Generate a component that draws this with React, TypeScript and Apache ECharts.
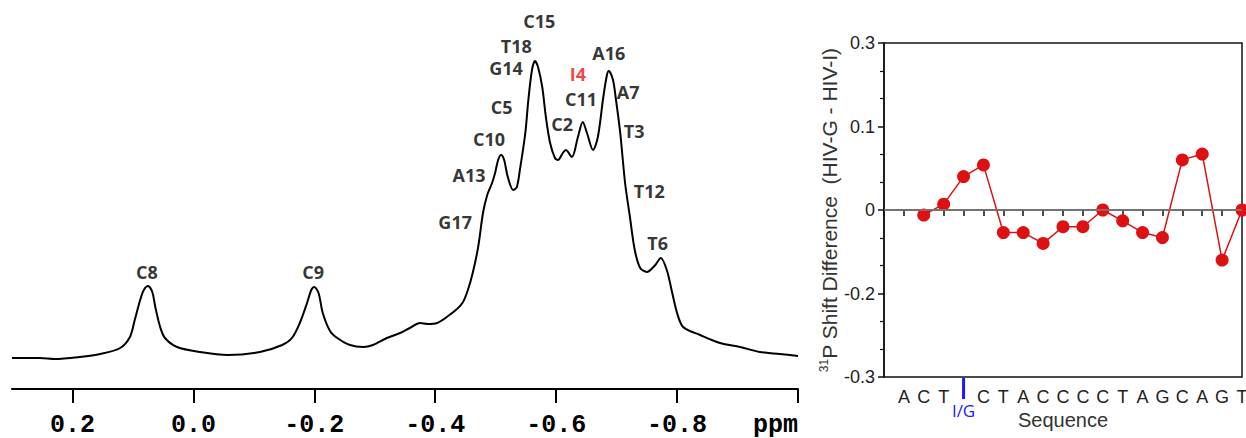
import React, { useEffect, useRef } from 'react';
import * as echarts from 'echarts';

// ---- Left panel: 31P NMR spectrum (ppm vs intensity, arbitrary units) ----
const spectrumPpm = [
  0.300, 0.254, 0.229, 0.188, 0.154, 0.121, 0.105, 0.097, 0.088, 0.082, 0.075, 0.068, 0.063, 0.055, 0.047, 0.027,
  -0.011, -0.057, -0.110, -0.147, -0.163, -0.176, -0.188, -0.195, -0.200, -0.207, -0.214, -0.226, -0.238, -0.259,
  -0.281, -0.297, -0.320, -0.342, -0.358, -0.375, -0.388, -0.403, -0.419, -0.436, -0.446, -0.454, -0.462, -0.471,
  -0.479, -0.486, -0.494, -0.499, -0.504, -0.509, -0.514, -0.520, -0.529, -0.535, -0.540, -0.549, -0.554, -0.560,
  -0.565, -0.570, -0.577, -0.583, -0.590, -0.598, -0.603, -0.611, -0.616, -0.626, -0.636, -0.644, -0.651, -0.661,
  -0.669, -0.678, -0.684, -0.687, -0.694, -0.699, -0.706, -0.714, -0.722, -0.730, -0.739, -0.750, -0.764, -0.773,
  -0.783, -0.792, -0.800, -0.810, -0.838, -0.871, -0.904, -0.937, -0.970, -1.000,
];
const spectrumIntensity = [
  31, 31, 30, 32, 35, 41, 52, 69, 89, 99, 103, 97, 82, 62, 51, 42,
  37, 34, 37, 44, 51, 66, 86, 99, 102, 96, 76, 58, 51, 44,
  42, 44, 51, 56, 61, 66, 65, 66, 72, 80, 87, 99, 116, 142,
  176, 194, 206, 216, 229, 234, 229, 212, 199, 202, 219, 256, 289, 319,
  328, 322, 302, 272, 246, 231, 229, 236, 239, 232, 252, 267, 256, 239,
  252, 292, 314, 318, 309, 289, 256, 206, 172, 139, 121, 117, 124, 131,
  119, 96, 76, 62, 54, 46, 42, 37, 35, 33,
];
const peakNames = ['C8', 'C9', 'G17', 'A13', 'C10', 'C5', 'G14', 'T18', 'C15', 'I4', 'C11', 'C2', 'A16', 'A7', 'T3', 'T12', 'T6'];
const peakPpm = [0.077, -0.198, -0.433, -0.456, -0.489, -0.510, -0.517, -0.534, -0.572, -0.636, -0.641, -0.610, -0.687, -0.719, -0.729, -0.754, -0.768];
const peakLabelHeight = [117, 117, 167, 214, 250, 282, 321, 343, 368, 315, 290, 265, 336, 297, 258, 198, 146];
const highlightedPeak = 'I4';
const ppmMajorTicks = [-1.0, -0.8, -0.6, -0.4, -0.2, 0.0, 0.2];
const ppmMinorTicks = [-0.9, -0.7, -0.5, -0.3, -0.1, 0.1, 0.3];

// ---- Right panel: 31P shift difference by sequence position ----
const sequence = ['', 'A', 'C', 'T', 'I/G', 'C', 'T', 'A', 'C', 'C', 'C', 'C', 'T', 'A', 'G', 'C', 'A', 'G', 'T'];
const shiftPositions = [2, 3, 4, 5, 6, 7, 8, 9, 10, 11, 12, 13, 14, 15, 16, 17, 18];
const shiftDifference = [-0.006, 0.007, 0.040, 0.054, -0.027, -0.027, -0.040, -0.020, -0.020, 0.000, -0.013, -0.027, -0.033, 0.060, 0.067, -0.060, 0.000];
const shiftTickLabels = ['-0.3', '-0.2', '0', '0.1', '0.3'];

export default function App() {
  const ref = useRef<HTMLDivElement>(null);

  useEffect(() => {
    if (!ref.current) return;
    const chart = echarts.init(ref.current, undefined, { renderer: 'svg' });

    const spectrum = spectrumPpm.map((p, i) => [p, spectrumIntensity[i]]);
    const peaks = peakNames.map((n, i) => ({
      name: n,
      value: [peakPpm[i], peakLabelHeight[i]],
      label: n === highlightedPeak ? { color: '#ee1111' } : undefined,
    }));
    const shifts = shiftPositions.map((p, i) => [p, shiftDifference[i]]);

    const sans = 'Liberation Sans, Arial, sans-serif';

    chart.setOption({
      animation: false,
      backgroundColor: '#ffffff',
      grid: [
        { left: 12, right: 448, top: 0, bottom: 49, outerBoundsMode: 'none', containLabel: false },
        {
          left: 884, right: 4, top: 43, bottom: 61, outerBoundsMode: 'none', containLabel: false,
          show: true, borderColor: '#111', borderWidth: 1.5, backgroundColor: 'transparent',
        },
      ],
      xAxis: [
        {
          gridIndex: 0,
          type: 'value',
          inverse: true,
          min: -1.0,
          max: 0.3,
          axisLine: { show: true, lineStyle: { color: '#000', width: 2 } },
          axisTick: { show: true, customValues: ppmMajorTicks, length: 14, lineStyle: { color: '#000', width: 2 } },
          axisLabel: {
            show: true,
            customValues: ppmMajorTicks,
            margin: 25,
            lineHeight: 22,
            fontFamily: 'Liberation Mono, Courier New, monospace',
            fontSize: 25,
            fontWeight: 'bold',
            color: '#000',
            alignMinLabel: 'right',
            formatter: (v: number) => (Math.abs(v + 1) < 1e-9 ? 'ppm' : v.toFixed(1)),
          },
          splitLine: { show: false },
        },
        {
          gridIndex: 0,
          type: 'value',
          inverse: true,
          min: -1.0,
          max: 0.3,
          axisLine: { show: false },
          axisTick: { show: true, customValues: ppmMinorTicks, length: 5, lineStyle: { color: '#000', width: 2 } },
          axisLabel: { show: false },
          splitLine: { show: false },
        },
        {
          gridIndex: 1,
          type: 'value',
          min: 0,
          max: 18,
          interval: 1,
          axisLine: { show: true, lineStyle: { color: '#111', width: 1.5 } },
          axisTick: { show: true, length: 6, lineStyle: { color: '#111', width: 1.5 } },
          axisLabel: {
            show: true,
            margin: 1,
            formatter: (v: number) => {
              const s = sequence[Math.round(v)] || '';
              if (s === '') return '';
              if (s === 'I/G') return '{bar| }\n{ig|I/G}';
              return '{l|' + s + '}';
            },
            rich: {
              l: { fontFamily: sans, fontSize: 18, color: '#222', padding: [10, 0, 0, 0] },
              bar: { width: 3, height: 21, backgroundColor: '#1a1aff' },
              ig: { fontFamily: 'Open Sans, sans-serif', fontSize: 17, color: '#1a1aff', lineHeight: 23 },
            },
          },
          splitLine: { show: false },
          name: 'Sequence',
          nameLocation: 'middle',
          nameGap: 33,
          nameMoveOverlap: false,
          nameTextStyle: { fontFamily: sans, fontSize: 20, color: '#333', lineHeight: 20 },
        },
      ],
      yAxis: [
        { gridIndex: 0, type: 'value', min: 0, max: 389, show: false },
        {
          gridIndex: 1,
          type: 'value',
          min: -0.2,
          max: 0.2,
          interval: 0.1,
          axisLine: { show: true, lineStyle: { color: '#111', width: 1.5 } },
          axisTick: { show: true, length: 6, lineStyle: { color: '#111', width: 1.5 } },
          minorTick: { show: true, splitNumber: 3, length: 4, lineStyle: { color: '#111', width: 1.2 } },
          axisLabel: {
            margin: 9,
            fontFamily: sans,
            fontSize: 18,
            color: '#222',
            formatter: (v: number) => shiftTickLabels[Math.round((v + 0.2) / 0.1)] ?? '',
          },
          splitLine: { show: false },
          name: '{sup|31}{main|P Shift Difference  (HIV-G - HIV-I)}',
          nameLocation: 'middle',
          nameGap: 44,
          nameRotate: 90,
          nameMoveOverlap: false,
          nameTextStyle: {
            rich: {
              sup: { fontFamily: sans, fontSize: 12, color: '#333', verticalAlign: 'top', lineHeight: 22 },
              main: { fontFamily: sans, fontSize: 21, color: '#333', lineHeight: 22 },
            },
          },
        },
      ],
      series: [
        {
          type: 'line',
          xAxisIndex: 0,
          yAxisIndex: 0,
          data: spectrum,
          showSymbol: false,
          smooth: 0.3,
          lineStyle: { color: '#000', width: 2 },
          silent: true,
        },
        {
          type: 'scatter',
          xAxisIndex: 0,
          yAxisIndex: 0,
          data: peaks,
          symbolSize: 0,
          silent: true,
          label: {
            show: true,
            position: 'inside',
            formatter: '{b}',
            fontFamily: 'Open Sans, sans-serif',
            fontWeight: 'bold',
            fontSize: 18,
            color: '#000',
          },
        },
        {
          type: 'line',
          xAxisIndex: 2,
          yAxisIndex: 1,
          data: shifts,
          clip: false,
          symbol: 'circle',
          symbolSize: 13,
          itemStyle: { color: '#dd1111' },
          lineStyle: { color: '#dd1111', width: 1.5 },
          markLine: {
            silent: true,
            symbol: ['none', 'none'],
            label: { show: false },
            lineStyle: { color: '#808080', width: 1.5, type: 'solid' },
            data: [{ yAxis: 0 }],
          },
          z: 3,
        },
      ],
    });

    return () => chart.dispose();
  }, []);

  return <div ref={ref} style={{ position: 'absolute', left: 0, top: 0, width: 1246, height: 438 }} />;
}
